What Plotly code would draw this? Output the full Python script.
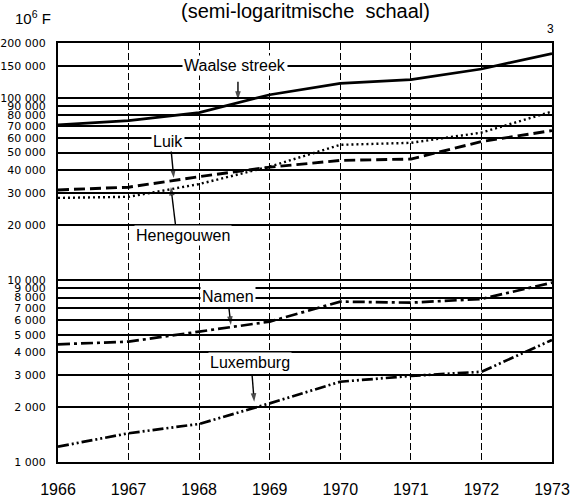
import math
import plotly.graph_objects as go

years = [1966, 1967, 1968, 1969, 1970, 1971, 1972, 1973]
waalse_streek = [71000, 75000, 83000, 104000, 120000, 126000, 144000, 175000]
luik = [28200, 28600, 33600, 41900, 55200, 56600, 64400, 84100]
henegouwen = [31200, 32300, 36900, 41600, 45300, 46100, 57500, 66100]
namen = [4430, 4580, 5200, 5900, 7600, 7500, 7860, 9660]
luxemburg = [1214, 1438, 1618, 2100, 2760, 2970, 3130, 4680]

y_ticks = [1000, 2000, 3000, 4000, 5000, 6000, 7000, 8000, 9000, 10000,
           20000, 30000, 40000, 50000, 60000, 70000, 80000, 90000, 100000,
           150000, 200000]
y_tick_text = ["1 000", "2 000", "3 000", "4 000", "5 000", "6 000", "7 000",
               "8 000", "9 000", "10 000", "20 000", "30 000", "40 000",
               "50 000", "60 000", "70 000", "80 000", "90 000", "100 000",
               "150 000", "200 000"]

# series label placement (label year, label value) and pointer (from -> to)
label_names = ["Waalse streek", "Luik", "Henegouwen", "Namen", "Luxemburg"]
label_pos = [(1968.51, 150000), (1967.56, 57300), (1967.77, 17500),
             (1968.41, 8070), (1968.72, 3500)]
pointer_from = [(1968.55, 122500), (1967.60, 53100), (1967.67, 19300),
                (1968.42, 7110), (1968.75, 3010)]
pointer_to = [(1968.55, 97500), (1967.64, 36300), (1967.60, 32400),
              (1968.45, 5660), (1968.78, 2140)]

series = [
    ("Waalse streek", waalse_streek, "solid", 2.7),
    ("Luik", luik, "2px,3px", 2.4),
    ("Henegouwen", henegouwen, "11px,5px", 2.9),
    ("Namen", namen, "12px,4px,3px,4px", 2.7),
    ("Luxemburg", luxemburg, "11px,3px,2px,3px,2px,3px", 2.7),
]

font = "Liberation Sans, Arial, sans-serif"
tickfont_y = "DejaVu Sans, sans-serif"

L, R, T, B, W, H = 58, 18, 43, 35, 570, 497
pw = W - L - R

fig = go.Figure()
for name, vals, dash, w in series:
    fig.add_trace(go.Scatter(x=years, y=vals, mode="lines", name=name,
                             line=dict(color="black", width=w, dash=dash),
                             hoverinfo="x+y+name"))

for text, (lx, ly) in zip(label_names, label_pos):
    fig.add_annotation(x=lx, y=math.log10(ly), text=text,
                       showarrow=False, bgcolor="white",
                       font=dict(family=font, size=16, color="black"),
                       borderpad=1)

for (tx, ty), (hx, hy) in zip(pointer_from, pointer_to):
    fig.add_trace(go.Scatter(
        x=[tx, hx], y=[ty, hy], mode="lines+markers",
        line=dict(color="black", width=1.4),
        marker=dict(symbol=["line-ew", "arrow"], size=[1, 9],
                    angleref="previous", color="black",
                    line=dict(width=0)),
        hoverinfo="skip"))

fig.add_annotation(x=(305 - L) / pw, y=1.0, xref="paper", yref="paper",
                   xanchor="center", yanchor="middle", yshift=32,
                   text="(semi-logaritmische  schaal)", showarrow=False,
                   font=dict(family=font, size=20, color="black"))
fig.add_annotation(x=(13 - L) / pw, y=1.0, xref="paper", yref="paper",
                   xanchor="left", yanchor="middle", yshift=26,
                   text="10<sup>6</sup> F", showarrow=False,
                   font=dict(family=font, size=15, color="black"))
fig.add_annotation(x=(550 - L) / pw, y=1.0, xref="paper", yref="paper",
                   xanchor="center", yanchor="middle", yshift=14,
                   text="3", showarrow=False,
                   font=dict(family=font, size=12, color="black"))

fig.update_layout(
    width=W, height=H,
    margin=dict(l=L, r=R, t=T, b=B),
    paper_bgcolor="white", plot_bgcolor="white",
    showlegend=False,
    font=dict(family=font, color="black"),
)
fig.update_xaxes(
    range=[1966, 1973], tickvals=years, ticktext=[str(y) for y in years],
    showgrid=True, gridcolor="black", gridwidth=1, griddash="7px,3px",
    showline=True, linecolor="black", linewidth=2, mirror=True,
    ticks="", zeroline=False, ticklabelstandoff=12, automargin=False,
    tickfont=dict(family=font, size=16, color="black"),
)
fig.update_yaxes(
    type="log", range=[3, math.log10(200000)],
    tickvals=y_ticks, ticktext=y_tick_text,
    showgrid=True, gridcolor="black", gridwidth=1.5,
    showline=True, linecolor="black", linewidth=2, mirror=True,
    ticks="", zeroline=False, ticklabelstandoff=8, automargin=False,
    tickfont=dict(family=tickfont_y, size=11, color="black"),
)

fig.write_html(
    "out.html",
    config={"displayModeBar": False, "staticPlot": False},
    post_script="document.body.style.margin='0';document.body.style.padding='0';"
                "document.body.style.overflow='hidden';",
)
